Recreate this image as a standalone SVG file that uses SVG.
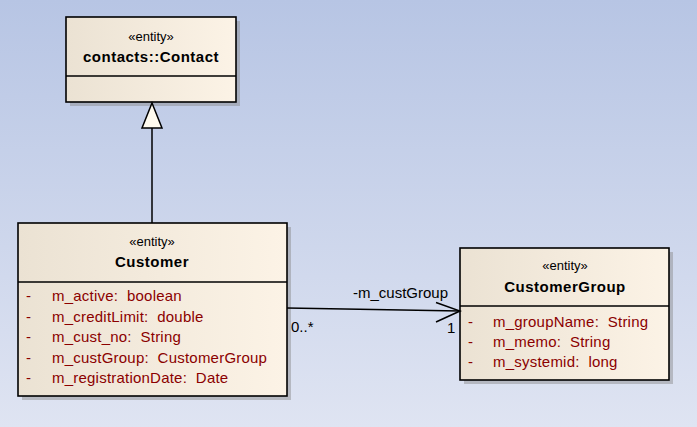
<svg xmlns="http://www.w3.org/2000/svg" width="697" height="427" viewBox="0 0 697 427">
<defs>
<linearGradient id="bg" x1="0" y1="0" x2="0" y2="1">
<stop offset="0" stop-color="#B7C5E4"/>
<stop offset="1" stop-color="#DFE4F2"/>
</linearGradient>
<linearGradient id="fill" x1="0" y1="0" x2="1" y2="0">
<stop offset="0" stop-color="#EBE2D3"/>
<stop offset="1" stop-color="#FCF3E6"/>
</linearGradient>
</defs>
<style>
.box{fill:url(#fill);stroke:#000;stroke-width:1.6}
.shadow{fill:#888;opacity:0.45}
.div{stroke:#000;stroke-width:1.3}
.st{font-family:"Liberation Sans",Arial,sans-serif;font-size:13px;fill:#000;text-anchor:middle}
.nm{font-family:"Liberation Sans",Arial,sans-serif;font-size:15px;font-weight:bold;fill:#000;text-anchor:middle;letter-spacing:0.5px}
.at{font-family:"Liberation Sans",Arial,sans-serif;font-size:15px;fill:#8B0000;letter-spacing:0.22px;white-space:pre}
.lb{font-family:"Liberation Sans",Arial,sans-serif;font-size:15px;fill:#000}
.ln{stroke:#000;stroke-width:1.5;fill:none}
</style>
<rect x="0" y="0" width="697" height="427" fill="url(#bg)"/>

<g id="contact">
<rect class="shadow" x="70" y="21" width="170" height="85"/>
<rect class="box" x="66" y="17" width="170" height="85"/>
<line class="div" x1="66" y1="76" x2="236" y2="76"/>
<text class="st" x="151" y="41">«entity»</text>
<text class="nm" x="151" y="62">contacts::Contact</text>
</g>

<g id="customer">
<rect class="shadow" x="22" y="227" width="269" height="173"/>
<rect class="box" x="18" y="223" width="269" height="173"/>
<line class="div" x1="18" y1="282" x2="287" y2="282"/>
<text class="st" x="152" y="246">«entity»</text>
<text class="nm" x="152" y="267">Customer</text>
<text class="at" x="26" y="301">-</text><text class="at" x="52" y="301">m_active:  boolean</text>
<text class="at" x="26" y="321.5">-</text><text class="at" x="52" y="321.5">m_creditLimit:  double</text>
<text class="at" x="26" y="342">-</text><text class="at" x="52" y="342">m_cust_no:  String</text>
<text class="at" x="26" y="362.5">-</text><text class="at" x="52" y="362.5">m_custGroup:  CustomerGroup</text>
<text class="at" x="26" y="383">-</text><text class="at" x="52" y="383">m_registrationDate:  Date</text>
</g>

<g id="customergroup">
<rect class="shadow" x="464" y="252" width="209" height="132"/>
<rect class="box" x="460" y="248" width="209" height="132"/>
<line class="div" x1="460" y1="306" x2="669" y2="306"/>
<text class="st" x="565" y="270">«entity»</text>
<text class="nm" x="565" y="292">CustomerGroup</text>
<text class="at" x="468" y="327">-</text><text class="at" x="493" y="327">m_groupName:  String</text>
<text class="at" x="468" y="347">-</text><text class="at" x="493" y="347">m_memo:  String</text>
<text class="at" x="468" y="367">-</text><text class="at" x="493" y="367">m_systemid:  long</text>
</g>

<g id="connectors">
<line class="ln" x1="152" y1="128" x2="152" y2="223"/>
<polygon points="152,103 142,128 162,128" fill="#FFFBEF" stroke="#000" stroke-width="1.5"/>
<line class="ln" x1="287" y1="308" x2="460" y2="311"/>
<polyline class="ln" points="436,302.5 460,311 436,322"/>
<text class="lb" x="353" y="298">-m_custGroup</text>
<text class="lb" x="291" y="332">0..*</text>
<text class="lb" x="447" y="333">1</text>
</g>
</svg>
